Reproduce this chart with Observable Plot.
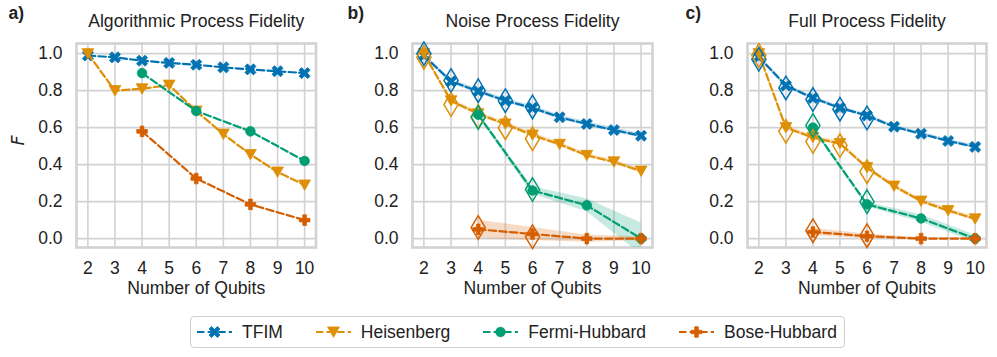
<!DOCTYPE html>
<html><head><meta charset="utf-8">
<script src="https://cdn.jsdelivr.net/npm/d3@7"></script>
<script src="https://cdn.jsdelivr.net/npm/@observablehq/plot@0.6"></script>
<style>
body{margin:0;background:#fff;}
#root{position:relative;width:997px;height:357px;overflow:hidden;background:#fff;font-family:"Liberation Sans",Arial,Helvetica,sans-serif;color:#222;}
.panel{position:absolute;top:0;}
#legend{position:absolute;left:190px;top:316px;height:32px;box-sizing:border-box;border:1.5px solid #cfcfcf;border-radius:4px;display:flex;align-items:center;padding:0 7px 0 6px;font-size:17.5px;white-space:nowrap;}
.item{display:flex;align-items:center;margin-right:33px;}
.item:last-child{margin-right:0;}
.item svg{display:block;margin-right:10px;}
</style></head>
<body><div id="root"><div id="legend"></div></div>
<script>
// ---------- data ----------
const qubits = [2, 3, 4, 5, 6, 7, 8, 9, 10];
const qubitsEven = [4, 6, 8, 10];
const qubitsMeas = [2, 3, 4, 5, 6];
const qubitsMeasEven = [4, 6];
const xTicks = [2, 3, 4, 5, 6, 7, 8, 9, 10];
const yTicks = [0, 0.2, 0.4, 0.6, 0.8, 1.0];
const seriesNames = ["TFIM", "Heisenberg", "Fermi-Hubbard", "Bose-Hubbard"];
const seriesColors = ["#0173b2", "#de8f05", "#029e73", "#d55e00"];
const panelTitles = ["Algorithmic Process Fidelity", "Noise Process Fidelity", "Full Process Fidelity"];
const panelLetters = ["a)", "b)", "c)"];
const xLabel = "Number of Qubits";
const yLabel = "F";

// a) algorithmic
const algTFIM = [0.99, 0.98, 0.962, 0.95, 0.94, 0.926, 0.915, 0.905, 0.895];
const algHeis = [1.0, 0.80, 0.81, 0.83, 0.69, 0.565, 0.455, 0.36, 0.29];
const algFH = [0.895, 0.69, 0.58, 0.42];
const algBH = [0.58, 0.325, 0.185, 0.10];

// b) noise
const noiseTFIM = [0.99, 0.85, 0.797, 0.746, 0.707, 0.656, 0.62, 0.587, 0.556];
const noiseHeis = [1.0, 0.745, 0.675, 0.62, 0.56, 0.51, 0.45, 0.415, 0.365];
const noiseFH = [0.67, 0.26, 0.18, 0.0];
const noiseBH = [0.05, 0.025, 0.0, 0.0];
const noiseTFIMBand = [0.01, 0.012, 0.012, 0.012, 0.012, 0.012, 0.012, 0.012, 0.012];
const noiseHeisBand = [0.01, 0.012, 0.012, 0.012, 0.012, 0.012, 0.012, 0.012, 0.012];
const noiseFHBand = [0.012, 0.02, 0.035, 0.085];
const noiseBHBand = [0.05, 0.035, 0.02, 0.01];
const noiseTFIMMeas = [1.0, 0.855, 0.8, 0.746, 0.712];
const noiseHeisMeas = [0.98, 0.725, 0.66, 0.60, 0.54];
const noiseFHMeas = [0.655, 0.265];
const noiseBHMeas = [0.06, 0.01];

// c) full
const fullTFIM = [0.982, 0.828, 0.76, 0.707, 0.665, 0.605, 0.567, 0.528, 0.496];
const fullHeis = [1.0, 0.60, 0.547, 0.514, 0.384, 0.284, 0.203, 0.152, 0.107];
const fullFH = [0.60, 0.185, 0.109, 0.0];
const fullBH = [0.036, 0.013, 0.0, 0.0];
const fullTFIMBand = [0.01, 0.01, 0.01, 0.01, 0.01, 0.01, 0.01, 0.01, 0.01];
const fullHeisBand = [0.01, 0.012, 0.012, 0.012, 0.012, 0.012, 0.012, 0.012, 0.012];
const fullFHBand = [0.01, 0.012, 0.02, 0.02];
const fullBHBand = [0.02, 0.012, 0.005, 0.005];
const fullTFIMMeas = [0.97, 0.815, 0.752, 0.70, 0.652];
const fullHeisMeas = [0.99, 0.58, 0.525, 0.503, 0.362];
const fullFHMeas = [0.612, 0.2];
const fullBHMeas = [0.043, 0.016];

// ---------- symbols ----------
function poly(pts) {
  return {draw(ctx, size) {
    const r = Math.sqrt(size / Math.PI);
    pts.forEach(([x, y], i) => i ? ctx.lineTo(x * r, y * r) : ctx.moveTo(x * r, y * r));
    ctx.closePath();
  }};
}
const plusPts = (a) => [[-a,-1],[a,-1],[a,-a],[1,-a],[1,a],[a,a],[a,1],[-a,1],[-a,a],[-1,a],[-1,-a],[-a,-a]];
const symPlus = poly(plusPts(0.34));
const symX = poly(plusPts(0.3).map(([x, y]) => [(x - y) * 0.7071 * 1.12, (x + y) * 0.7071 * 1.12]));
const symTri = poly([[0, 0.95], [-1.05, -0.9], [1.05, -0.9]]);
const symDiamond = poly([[0, -1], [0.6, 0], [0, 1], [-0.6, 0]]);
const seriesSymbols = [symX, symTri, "circle", symPlus];
const seriesR = [5.4, 5.6, 4.8, 5.3];

function rows(xs, ys, band) {
  return xs.map((x, i) => ({x, y: ys[i], lo: band ? ys[i] - band[i] : null, hi: band ? ys[i] + band[i] : null}));
}

const panels = [
  {left: 0, width: 330, ml: 76, mr: 14.5, letterDx: -68, ylab: true,
   series: [
     {xs: qubits, ys: algTFIM}, {xs: qubits, ys: algHeis},
     {xs: qubitsEven, ys: algFH}, {xs: qubitsEven, ys: algBH}]},
  {left: 330, width: 335, ml: 82, mr: 13, letterDx: -65,
   series: [
     {xs: qubits, ys: noiseTFIM, band: noiseTFIMBand, mxs: qubitsMeas, mys: noiseTFIMMeas},
     {xs: qubits, ys: noiseHeis, band: noiseHeisBand, mxs: qubitsMeas, mys: noiseHeisMeas},
     {xs: qubitsEven, ys: noiseFH, band: noiseFHBand, mxs: qubitsMeasEven, mys: noiseFHMeas},
     {xs: qubitsEven, ys: noiseBH, band: noiseBHBand, mxs: qubitsMeasEven, mys: noiseBHMeas}]},
  {left: 665, width: 332, ml: 82, mr: 11, letterDx: -62,
   series: [
     {xs: qubits, ys: fullTFIM, band: fullTFIMBand, mxs: qubitsMeas, mys: fullTFIMMeas},
     {xs: qubits, ys: fullHeis, band: fullHeisBand, mxs: qubitsMeas, mys: fullHeisMeas},
     {xs: qubitsEven, ys: fullFH, band: fullFHBand, mxs: qubitsMeasEven, mys: fullFHMeas},
     {xs: qubitsEven, ys: fullBH, band: fullBHBand, mxs: qubitsMeasEven, mys: fullBHMeas}]}
];

const font = '"Liberation Sans", Arial, Helvetica, sans-serif';
const gridColor = "#d2d2d2";
const dash = "7.4,3.2";

panels.forEach((p, pi) => {
  const marks = [
    Plot.gridX(xTicks, {stroke: gridColor, strokeOpacity: 1, strokeWidth: 1.6}),
    Plot.gridY(yTicks, {stroke: gridColor, strokeOpacity: 1, strokeWidth: 1.6}),
    Plot.frame({stroke: gridColor, strokeWidth: 2.6}),
    Plot.axisX(xTicks, {tickSize: 0, tickPadding: 14, label: null}),
    Plot.axisY(yTicks, {tickSize: 0, tickPadding: 14, label: null, tickFormat: d3.format(".1f")})
  ];
  p.series.forEach((s, si) => {
    const color = seriesColors[si];
    const data = rows(s.xs, s.ys, s.band);
    if (s.band) marks.push(Plot.areaY(data, {x: "x", y1: "lo", y2: "hi", fill: color, fillOpacity: 0.22, clip: true}));
    marks.push(Plot.line(data, {x: "x", y: "y", stroke: color, strokeWidth: 2.2, strokeDasharray: dash}));
    marks.push(Plot.dot(data, {x: "x", y: "y", symbol: seriesSymbols[si], r: seriesR[si], fill: color, stroke: color, strokeWidth: 0.8}));
  });
  p.series.forEach((s, si) => {
    if (!s.mxs) return;
    const m = rows(s.mxs, s.mys);
    marks.push(Plot.dot(m, {x: "x", y: "y", symbol: symDiamond, r: 11.8, fill: "none", stroke: seriesColors[si], strokeWidth: 1.5}));
  });
  marks.push(Plot.text([panelTitles[pi]], {text: d => d, frameAnchor: "top", lineAnchor: "bottom", dy: -16.5, fontSize: 17.6}));
  marks.push(Plot.text([panelLetters[pi]], {text: d => d, frameAnchor: "top-left", textAnchor: "start", lineAnchor: "bottom", dx: p.letterDx, dy: -24.5, fontWeight: "bold", fontSize: 17.5}));
  marks.push(Plot.text([xLabel], {text: d => d, frameAnchor: "bottom", lineAnchor: "bottom", dy: 46, fontSize: 17.6}));
  if (p.ylab) marks.push(Plot.text([yLabel], {text: d => d, frameAnchor: "left", dx: -58, rotate: -90, fontStyle: "italic", fontFamily: "DejaVu Sans", fontSize: 17.5}));
  const chart = Plot.plot({
    width: p.width, height: 300,
    marginLeft: p.ml, marginRight: p.mr, marginTop: 43, marginBottom: 53,
    x: {domain: [1.58, 10.42]},
    y: {domain: [-0.048, 1.055]},
    style: {fontFamily: font, fontSize: "17.5px", color: "#222", background: "white", overflow: "visible"},
    marks
  });
  chart.classList.add("panel");
  chart.style.left = p.left + "px";
  document.getElementById("root").appendChild(chart);
});

// ---------- legend ----------
const legend = document.getElementById("legend");
seriesNames.forEach((name, i) => {
  const item = document.createElement("div");
  item.className = "item";
  const svg = d3.create("svg").attr("width", 35).attr("height", 20);
  svg.append("line").attr("x1", 0).attr("x2", 35).attr("y1", 10).attr("y2", 10)
    .attr("stroke", seriesColors[i]).attr("stroke-width", 2.2).attr("stroke-dasharray", dash);
  const sym = seriesSymbols[i] === "circle" ? d3.symbolCircle : seriesSymbols[i];
  svg.append("path").attr("transform", "translate(17.5,10)")
    .attr("d", d3.symbol(sym, Math.PI * seriesR[i] * seriesR[i])())
    .attr("fill", seriesColors[i]).attr("stroke", seriesColors[i]).attr("stroke-width", 0.8);
  item.appendChild(svg.node());
  const t = document.createElement("span");
  t.textContent = name;
  item.appendChild(t);
  legend.appendChild(item);
});
</script></body></html>
